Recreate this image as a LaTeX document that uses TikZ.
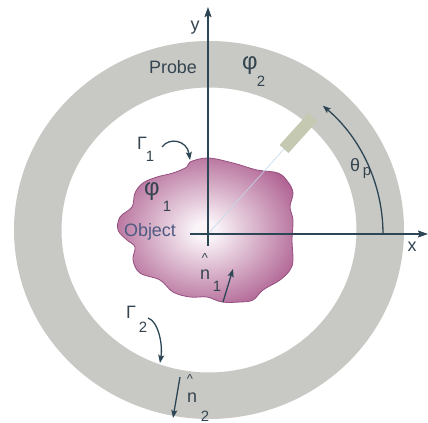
\documentclass[tikz,border=0pt]{standalone}
\usepackage{fontspec}
\setmainfont{Liberation Sans}
\usetikzlibrary{arrows.meta}
\definecolor{ringc}{RGB}{200,201,196}
\definecolor{probec}{RGB}{198,201,178}
\definecolor{axisc}{RGB}{45,70,85}
\definecolor{labc}{RGB}{52,68,80}
\definecolor{objc}{RGB}{78,90,130}
\definecolor{blobin}{RGB}{250,244,248}
\definecolor{blobout}{RGB}{172,92,142}
\definecolor{blobedge}{RGB}{150,78,128}
\definecolor{faintc}{RGB}{195,218,234}
\pgfdeclareradialshading{blobshade}{\pgfpoint{0bp}{0bp}}{color(0bp)=(blobin); color(3bp)=(blobin); color(30bp)=(blobout); color(50bp)=(blobout)}
\begin{document}
\begin{tikzpicture}[x=1bp,y=1bp,
  axisline/.style={draw=axisc, line width=1.5bp, -{Stealth[length=10bp,width=7bp,inset=1.5bp]}},
  curarrow/.style={draw=axisc, line width=1.3bp, -{Stealth[length=8bp,width=6bp,inset=1.5bp]}},
  lab/.style={text=labc, inner sep=0pt},
  big/.style={lab, font=\fontsize{18}{20}\selectfont},
  greek/.style={lab, font=\fontsize{24}{26}\selectfont},
  sub/.style={lab, font=\fontsize{15}{17}\selectfont},
  hat/.style={lab, font=\fontsize{13}{15}\selectfont},
  mid/.style={lab, font=\fontsize{18}{20}\selectfont}]
\useasboundingbox (-208,-189) rectangle (220,234);
% ring (probe region)
\fill[ringc, even odd rule] (1,4) ellipse[x radius=195, y radius=189]
                            (1,4) ellipse[x radius=147.5, y radius=142.5];
% object
\path[draw=blobedge, line width=0.8bp, shading=blobshade]
  plot[smooth cycle, tension=0.6] coordinates {
  (-18,72) (0,76) (25,71) (49,64) (70,61) (80,52) (85,41) (82,27) (85,14)
  (84,-6) (85,-26) (82,-36) (72,-46) (55,-56) (45,-66) (32,-68) (14,-68)
  (-1,-63) (-18,-63) (-35,-58) (-48,-46) (-68,-39) (-75,-26) (-73,-13)
  (-81,-6) (-90,4) (-88,17) (-76,27) (-73,41) (-65,51) (-51,57) (-35,61) (-21,67)};
% probe sensor
\coordinate (O) at (0,0);
\coordinate (pa) at (76,85);
\coordinate (pb) at (105,117);
\draw[faintc, line width=0.6bp] (O) -- (pa);
\draw[probec, line width=12bp] (pa) -- (pb);
% axes
\coordinate (xs) at (-18,0);
\coordinate (xe) at (220,0);
\coordinate (ys) at (0,-12);
\coordinate (ye) at (0,227);
\draw[axisline] (xs) -- (xe);
\draw[axisline] (ys) -- (ye);
% theta_p arc
\coordinate (ths) at (175,0);
\draw[curarrow] (ths) arc[start angle=0, end angle=49, x radius=175, y radius=170];
% Gamma arrows
\coordinate (g1s) at (-46,87);
\coordinate (g1e) at (-18,74);
\draw[curarrow] (g1s) .. controls (-39,97) and (-21,94) .. (g1e);
\coordinate (g2s) at (-60,-84);
\coordinate (g2e) at (-48,-129);
\draw[curarrow] (g2s) .. controls (-50,-87) and (-45,-110) .. (g2e);
% normals
\coordinate (n1s) at (15,-68);
\coordinate (n1e) at (25,-35);
\draw[curarrow] (n1s) -- (n1e);
\coordinate (n2s) at (-28,-143);
\coordinate (n2e) at (-35,-184);
\draw[curarrow] (n2s) -- (n2e);
% labels
\node[big] (ylab) at (-13,206) {y};
\node[big] (xlab) at (204,-13) {x};
\node[big] (probe) at (-35,167) {Probe};
\node[greek] (phi2) at (42,168) {φ};
\node[sub] (phi2s) at (53,153) {2};
\node[greek] (phi1) at (-56,42) {φ};
\node[sub] (phi1s) at (-41,28) {1};
\node[big, text=objc] (obj) at (-58,2) {Object};
\node[mid] (gam1) at (-66,91) {Γ};
\node[sub] (gam1s) at (-58,78) {1};
\node[mid] (gam2) at (-77,-78) {Γ};
\node[sub] (gam2s) at (-65,-93) {2};
\node[mid] (th) at (147,69) {θ};
\node[sub] (thp) at (159,61) {p};
\node[hat] (hat1) at (-3,-24) {\textasciicircum};
\node[mid] (n1) at (-3,-41) {n};
\node[sub] (n1sub) at (9,-52) {1};
\node[hat] (hat2) at (-18,-145) {\textasciicircum};
\node[mid] (n2) at (-16,-164) {n};
\node[sub] (n2sub) at (-3,-182) {2};
\end{tikzpicture}
\end{document}
